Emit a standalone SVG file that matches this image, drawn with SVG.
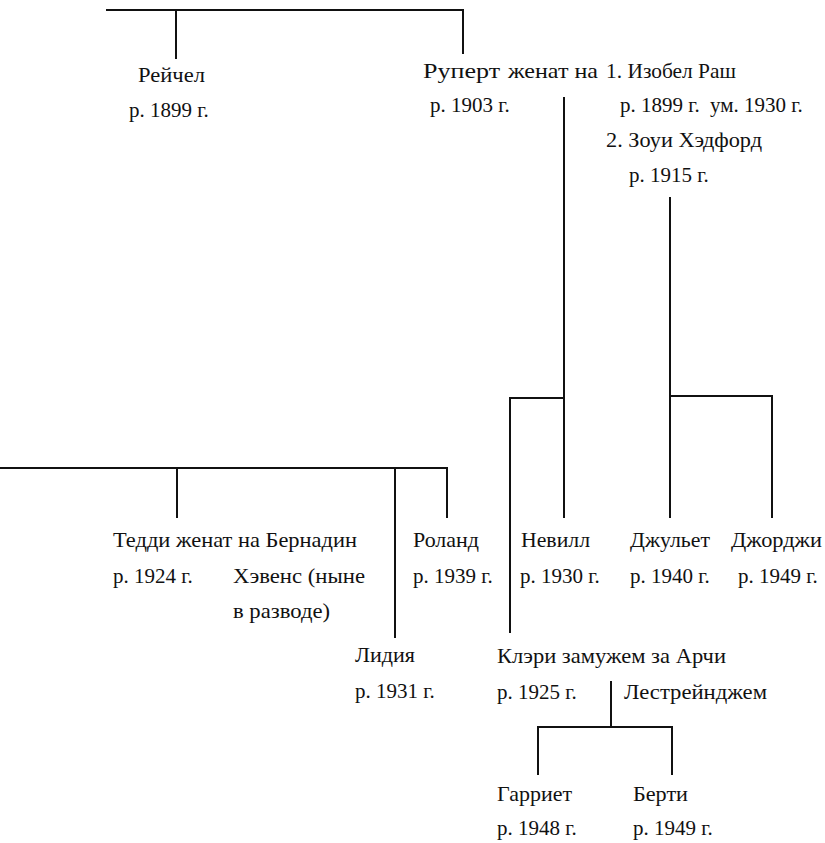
<svg xmlns="http://www.w3.org/2000/svg" width="825" height="843" viewBox="0 0 825 843">
<rect width="825" height="843" fill="#fff"/>
<g id="connectors" stroke="#111" stroke-width="2" fill="none">
<line x1="106" y1="10" x2="464" y2="10"/>
<line x1="176" y1="10" x2="176" y2="59"/>
<line x1="463" y1="10" x2="463" y2="54"/>
<line x1="564" y1="97" x2="564" y2="518"/>
<polyline points="510,633 510,398 564,398"/>
<line x1="670" y1="197" x2="670" y2="518"/>
<polyline points="670,396 772,396 772,518"/>
<polyline points="0,468 447,468 447,518"/>
<line x1="177" y1="468" x2="177" y2="518"/>
<line x1="395" y1="468" x2="395" y2="638"/>
<line x1="611" y1="681" x2="611" y2="727"/>
<polyline points="538,775 538,727 672,727 672,775"/>
</g>
<g fill="#111" font-family="'Liberation Serif', 'Times New Roman', serif" font-size="21">
<g id="rachel"><text x="138" y="82" textLength="67" lengthAdjust="spacingAndGlyphs">Рейчел</text><text x="129" y="117">р. 1899 г.</text></g>
<g id="rupert"><text x="423" y="78" textLength="77" lengthAdjust="spacingAndGlyphs">Руперт</text><text x="508" y="78" textLength="90" lengthAdjust="spacingAndGlyphs">женат на</text><text x="606" y="78" textLength="130" lengthAdjust="spacingAndGlyphs">1. Изобел Раш</text><text x="430" y="112">р. 1903 г.</text><text x="620" y="112">р. 1899 г.</text><text x="710" y="112">ум. 1930 г.</text><text x="606" y="147" textLength="156" lengthAdjust="spacingAndGlyphs">2. Зоуи Хэдфорд</text><text x="629" y="182">р. 1915 г.</text></g>
<g id="teddy"><text x="113" y="547" textLength="244" lengthAdjust="spacingAndGlyphs">Тедди женат на Бернадин</text><text x="113" y="583">р. 1924 г.</text><text x="233" y="583" textLength="132" lengthAdjust="spacingAndGlyphs">Хэвенс (ныне</text><text x="233" y="618" textLength="97" lengthAdjust="spacingAndGlyphs">в разводе)</text></g>
<g id="lydia"><text x="355" y="662" textLength="60" lengthAdjust="spacingAndGlyphs">Лидия</text><text x="355" y="698">р. 1931 г.</text></g>
<g id="roland"><text x="413" y="547" textLength="66" lengthAdjust="spacingAndGlyphs">Роланд</text><text x="413" y="583">р. 1939 г.</text></g>
<g id="neville"><text x="521" y="547" textLength="69" lengthAdjust="spacingAndGlyphs">Невилл</text><text x="520" y="583">р. 1930 г.</text></g>
<g id="juliet"><text x="630" y="547" textLength="80" lengthAdjust="spacingAndGlyphs">Джульет</text><text x="630" y="583">р. 1940 г.</text></g>
<g id="georgie"><text x="731" y="547" textLength="91" lengthAdjust="spacingAndGlyphs">Джорджи</text><text x="738" y="583">р. 1949 г.</text></g>
<g id="clary"><text x="497" y="663" textLength="229" lengthAdjust="spacingAndGlyphs">Клэри замужем за Арчи</text><text x="497" y="699">р. 1925 г.</text><text x="624" y="699" textLength="143" lengthAdjust="spacingAndGlyphs">Лестрейнджем</text></g>
<g id="harriet"><text x="497" y="801" textLength="75" lengthAdjust="spacingAndGlyphs">Гарриет</text><text x="497" y="835">р. 1948 г.</text></g>
<g id="berty"><text x="633" y="801" textLength="55" lengthAdjust="spacingAndGlyphs">Берти</text><text x="633" y="835">р. 1949 г.</text></g>
</g>
</svg>
